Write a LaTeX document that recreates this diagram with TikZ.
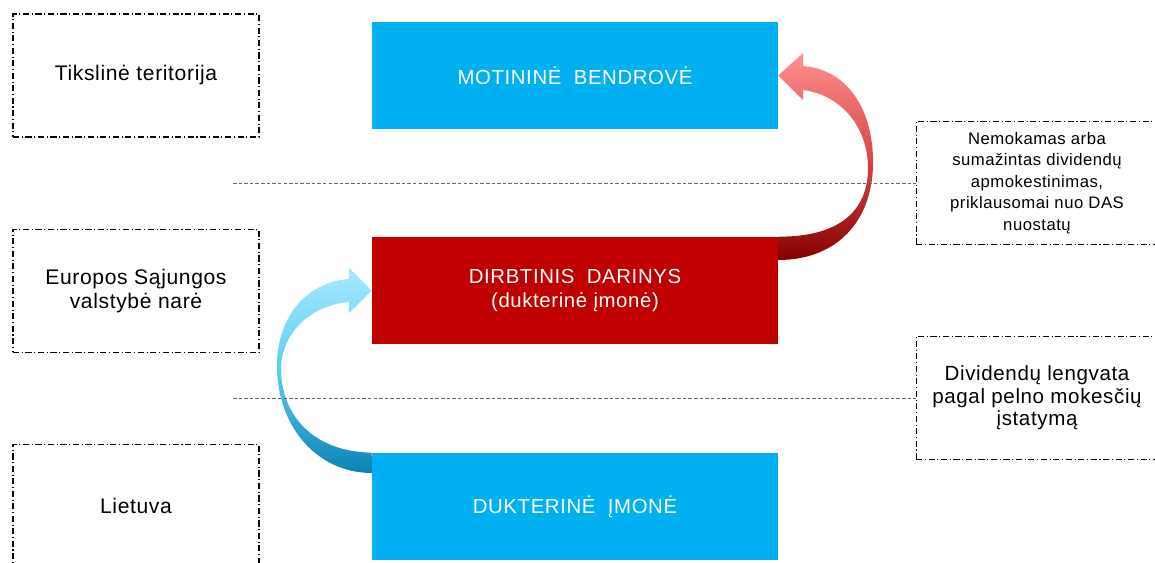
\documentclass[tikz,border=0pt]{standalone}
\usepackage{fontspec}
\setmainfont{Liberation Sans}[LetterSpace=3]
\definecolor{boxblue}{HTML}{00B0F0}
\definecolor{boxred}{HTML}{C00000}
\definecolor{redtop}{HTML}{FF8F8F}
\definecolor{redmid}{HTML}{DA4848}
\definecolor{redbot}{HTML}{860000}
\definecolor{bluetop}{HTML}{A8E8FF}
\definecolor{bluemid}{HTML}{5CCDF2}
\definecolor{bluebot}{HTML}{0B82B5}

\begin{document}
\begin{tikzpicture}[x=0.02cm,y=-0.02cm]
\tikzstyle{zone}=[draw,dash pattern=on 3.5pt off 1.5pt on 0.6pt off 1.5pt,line width=0.6pt,minimum width=4.92cm,minimum height=2.46cm,align=center,font=\fontsize{12}{13.8}\selectfont]
\tikzstyle{note}=[zone,minimum width=4.84cm]
\tikzstyle{entity}=[fill=#1,minimum width=8.12cm,minimum height=2.14cm,align=center,text=white,font=\fontsize{11.6}{13.6}\selectfont]
\tikzstyle{sepline}=[black!60,dash pattern=on 2pt off 1.2pt,line width=0.5pt]
\tikzstyle{redarrow}=[top color=redtop,bottom color=redbot,middle color=redmid]
\tikzstyle{bluearrow}=[top color=bluetop,bottom color=bluebot,middle color=bluemid]
\useasboundingbox (0,0) rectangle (1155,563);
\clip (0,0) rectangle (1155,563);

\node[zone](tiksl) at (136,75.5) {Tikslinė teritorija};
\node[zone](es) at (136,291) {Europos Sąjungos\\valstybė narė};
\node[zone](lt) at (136,506) {Lietuva};

\node[entity=boxblue](motin) at (575,75.5) {MOTININĖ\hspace{0.3em} BENDROVĖ};
\node[entity=boxred](darinys) at (575,290.5) {DIRBTINIS\hspace{0.3em} DARINYS\\(dukterinė įmonė)};
\node[entity=boxblue](dukter) at (575,506.5) {DUKTERINĖ\hspace{0.3em} ĮMONĖ};

\node[note,font=\fontsize{9.5}{12.2}\selectfont](nemok) at (1037,183) {Nemokamas arba\\sumažintas dividendų\\apmokestinimas,\\priklausomai nuo DAS\\nuostatų};
\node[note,font=\fontsize{11.7}{12.9}\selectfont](lengv) at (1037,398) {Dividendų lengvata\\pagal pelno mokesčių\\įstatymą};

\shade[redarrow] (darinys.north east)
  .. controls (838,237) and (868,212) .. (868,168)
  .. controls (868,128) and (842,95) .. (803,90)
  -- (803,100) -- (motin.east) -- (803,53) -- (803,66)
  .. controls (850,70) and (874,113) .. (873,165)
  .. controls (872,220) and (838,260) .. (778,260) -- cycle;
\shade[bluearrow] (dukter.north west)
  .. controls (318,452) and (282,420) .. (281,370)
  .. controls (281,332) and (312,305) .. (349,302)
  -- (349,313) -- (darinys.west) -- (349,268) -- (349,279)
  .. controls (306,282) and (276,318) .. (277,368)
  .. controls (278,428) and (318,473) .. (372,473) -- cycle;

\coordinate (s1) at (233,183);
\coordinate (s2) at (233,398);
\draw[sepline] (s1) -- (nemok.west);
\draw[sepline] (s2) -- (lengv.west);
\end{tikzpicture}
\end{document}
